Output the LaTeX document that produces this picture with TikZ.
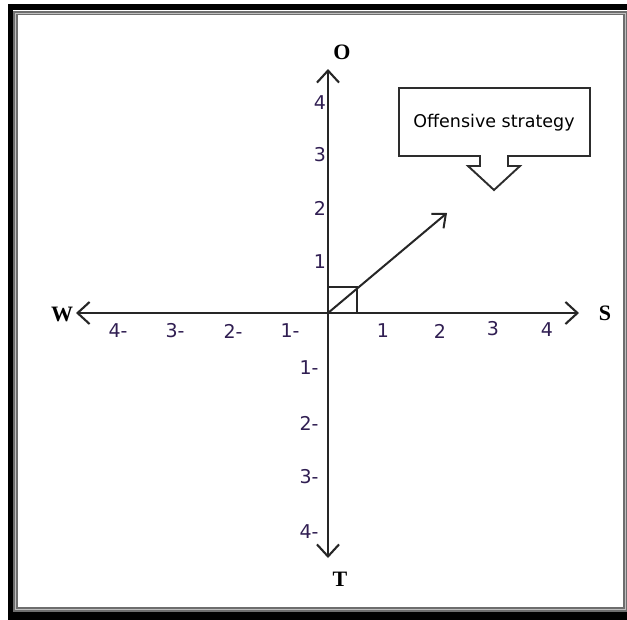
\documentclass[tikz,border=0pt]{standalone}
\usepackage{fontspec}
\usetikzlibrary{arrows.meta,positioning}
\newfontfamily\tickfont{DejaVu Sans}
\newfontfamily\dirfont{Liberation Serif}
\definecolor{TickInk}{RGB}{48,30,82}
\definecolor{FrameGray}{RGB}{110,110,110}
\definecolor{BoxInk}{RGB}{45,45,45}
\tikzset{
  axis/.style={line width=2.3pt,draw=black!85,
    {Straight Barb[length=12pt,width=22pt,line width=2.1pt]}-{Straight Barb[length=12pt,width=22pt,line width=2.1pt]}},
  tick/.style={text=TickInk,inner sep=0pt,font=\tickfont\fontsize{19}{21}\selectfont},
  dirlabel/.style={inner sep=0pt,font=\dirfont\bfseries\fontsize{22}{25}\selectfont},
  guide/.style={line width=2pt,draw=black!85},
  callout/.style={line width=1.9pt,draw=BoxInk,line join=miter}
}
\begin{document}
\begin{tikzpicture}[x=1pt,y=-1pt]
  \useasboundingbox (0,0) rectangle (627,619);
  \begin{scope}
    \clip (0,0) rectangle (627,619);
    \fill[black] (8,4) rectangle (640,625);
    \fill[white] (13,10) rectangle (640,612);
    \draw[FrameGray,line width=4.5pt] (15.5,13) rectangle (625,609.5);
    \draw[black!25,line width=1pt] (15.5,13) rectangle (625,609.5);
  \end{scope}
  % axes
  \coordinate (orig) at (328,313);
  \coordinate (otip) at (328,69);
  \coordinate (ttip) at (328,558);
  \coordinate (wtip) at (76,313);
  \coordinate (stip) at (579,313);
  \draw[axis] (wtip) -- (stip);
  \draw[axis] (ttip) -- (otip);
  \node[dirlabel] (O) at (342,52) {O};
  \node[dirlabel] (T) at (340,579) {T};
  \node[dirlabel] (W) at (62,314) {W};
  \node[dirlabel] (S) at (605,313) {S};
  % ticks
  \node[tick] (o4) at (320,103) {4};
  \node[tick] (o3) at (320,155) {3};
  \node[tick] (o2) at (320,208) {2};
  \node[tick] (o1) at (320,262) {1};
  \node[tick] (s1) at (383,331) {1};
  \node[tick] (s2) at (440,331) {2};
  \node[tick] (s3) at (493,329) {3};
  \node[tick] (s4) at (547,330) {4};
  \node[tick] (w4) at (118,331) {4-};
  \node[tick] (w3) at (175,331) {3-};
  \node[tick] (w2) at (233,331) {2-};
  \node[tick] (w1) at (290,331) {1-};
  \node[tick] (t1) at (309,368) {1-};
  \node[tick] (t2) at (309,423) {2-};
  \node[tick] (t3) at (309,477) {3-};
  \node[tick] (t4) at (309,532) {4-};
  % strategy vector
  \coordinate (sqtop) at (328,287);
  \coordinate (sqcorner) at (357,287);
  \coordinate (sqfoot) at (357,313);
  \coordinate (vtip) at (447,213);
  \draw[guide] (sqtop) -- (sqcorner) -- (sqfoot);
  \draw[guide,-{Straight Barb[length=11pt,width=19pt,line width=2pt]}] (orig) -- (vtip);
  % callout
  \draw[callout] (399,88) -- (590,88) -- (590,156) -- (508,156) -- (508,166)
    -- (520,166) -- (494,190) -- (468,166) -- (480,166) -- (480,156)
    -- (399,156) -- cycle;
  \node[inner sep=0pt,font=\tickfont\fontsize{17.5}{20}\selectfont] (offense) at (494,123) {Offensive strategy};
\end{tikzpicture}
\end{document}
